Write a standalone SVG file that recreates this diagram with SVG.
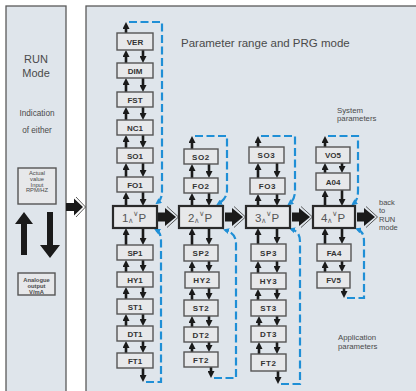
<svg xmlns="http://www.w3.org/2000/svg" width="416" height="391" viewBox="0 0 416 391">
<defs>
<style>
.panel{fill:#dfe5eb;stroke:#5a5a5a;stroke-width:1.3}
.box{fill:#e7e8ea;stroke:#555;stroke-width:1.4}
.pbox{fill:#e7e8ea;stroke:#2a2a2a;stroke-width:2.2}
.lbl{font-family:"Liberation Sans",Arial,sans-serif;font-weight:bold;font-size:8px;fill:#333;text-anchor:middle}
.pl{font-family:"Liberation Sans",Arial,sans-serif;font-size:11.5px;fill:#555}
.sm{font-family:"DejaVu Sans",sans-serif;font-size:7.5px;fill:#666}
.txt{font-family:"Liberation Sans",Arial,sans-serif;fill:#4a4a4a}
.ar{stroke:#1a1a1a;stroke-width:2.6;fill:none;marker-end:url(#ah)}
.dash{stroke:#1f8fd6;stroke-width:2.2;stroke-dasharray:8 3.5;fill:none}
.dh{marker-end:url(#bh)}
.blk{fill:#1a1a1a}
.chev{fill:none;stroke:#333;stroke-width:0.8}
</style>
<marker id="ah" markerUnits="userSpaceOnUse" markerWidth="7" markerHeight="7" viewBox="0 0 7 7" refX="2" refY="3.5" orient="auto"><path d="M0,0 L7,3.5 L0,7 z" fill="#1a1a1a"/></marker>
<marker id="bh" markerUnits="userSpaceOnUse" markerWidth="6" markerHeight="6" viewBox="0 0 6 6" refX="4" refY="3" orient="auto"><path d="M0,0 L6,3 L0,6 z" fill="#1f8fd6"/></marker>
</defs>
<rect width="416" height="391" fill="#ffffff"/>

<g id="run-panel">
<rect class="panel" x="6" y="6" width="60" height="400"/>
<text class="txt" x="36" y="63" font-size="11" text-anchor="middle">RUN</text>
<text class="txt" x="36" y="77" font-size="11" text-anchor="middle">Mode</text>
<text class="txt" x="37" y="116" font-size="8.2" text-anchor="middle">Indication</text>
<text class="txt" x="37" y="133" font-size="8.2" text-anchor="middle">of  either</text>
<g id="actual-box">
<rect class="box" x="18" y="168" width="38" height="36" stroke-width="1"/>
<text class="txt" font-size="5.8" text-anchor="middle"><tspan x="37" y="175">Actual</tspan><tspan x="37" y="181">value</tspan><tspan x="37" y="186.5">Input</tspan><tspan x="37" y="192">RPM/HZ</tspan></text>
</g>
<polygon class="blk" points="24,212 33,224 27,224 27,255 21,255 21,224 15,224"/>
<polygon class="blk" points="47,212 53,212 53,245 60,245 50,258 40,245 47,245"/>
<g id="analogue-box">
<rect class="box" x="18" y="273" width="37" height="22" stroke-width="1"/>
<text class="txt" font-size="5.8" font-weight="bold" text-anchor="middle"><tspan x="36.5" y="282">Analogue</tspan><tspan x="36.5" y="288">output</tspan><tspan x="36.5" y="294">V/mA</tspan></text>
</g>
</g>

<g id="prg-panel">
<rect class="panel" x="86" y="6" width="340" height="400"/>
<text class="txt" x="181" y="47" font-size="11.5">Parameter range and PRG mode</text>
<text class="txt" font-size="7.8"><tspan x="337" y="112.5">System</tspan><tspan x="337" y="121">parameters</tspan></text>
<text class="txt" font-size="7.8"><tspan x="338" y="340">Application</tspan><tspan x="338" y="349">parameters</tspan></text>
<text class="txt" font-size="7.5"><tspan x="379" y="205">back</tspan><tspan x="379" y="213">to</tspan><tspan x="379" y="222">RUN</tspan><tspan x="379" y="230">mode</tspan></text>
</g>

<g id="connectors">
<polygon class="blk" points="66,203 74,203 74,198.5 83,207 74,215.5 74,211 66,211"/>
<polyline class="chev" points="76,197 85.5,207 76,217"/>
<polygon class="blk" points="158,212.5 165,212.5 165,208 176,217 165,226 165,221.5 158,221.5"/>
<polyline class="chev" points="167,206.5 178.5,217 167,227.5"/>
<polygon class="blk" points="225,212.5 232,212.5 232,208 243,217 232,226 232,221.5 225,221.5"/>
<polyline class="chev" points="234,206.5 245.5,217 234,227.5"/>
<polygon class="blk" points="292,212.5 299,212.5 299,208 310,217 299,226 299,221.5 292,221.5"/>
<polyline class="chev" points="301,206.5 312.5,217 301,227.5"/>
<polygon class="blk" points="357,212.5 364,212.5 364,208 375,217 364,226 364,221.5 357,221.5"/>
<polyline class="chev" points="366,206.5 377.5,217 366,227.5"/>

<path class="ar" d="M126,33V27"/>
<path class="ar" d="M126,63V55"/><path class="ar" d="M143,50V58"/>
<path class="ar" d="M126,92V83"/><path class="ar" d="M143,78V87"/>
<path class="ar" d="M126,120V112"/><path class="ar" d="M143,107V115"/>
<path class="ar" d="M126,148V140"/><path class="ar" d="M143,135V143"/>
<path class="ar" d="M126,177V168"/><path class="ar" d="M143,163V172"/>
<path class="ar" d="M126,206V197"/><path class="ar" d="M143,192V201"/>
<path class="ar" d="M126,245V233"/><path class="ar" d="M143,228V240"/>
<path class="ar" d="M126,272V265"/><path class="ar" d="M143,260V267"/>
<path class="ar" d="M126,299V292"/><path class="ar" d="M143,287V294"/>
<path class="ar" d="M126,326V319"/><path class="ar" d="M143,314V321"/>
<path class="ar" d="M126,353V346"/><path class="ar" d="M143,341V348"/>
<path class="ar" d="M143,368V377"/>
<path class="dash dh" d="M129,22H162V190C162,197 161,200 157,203"/>
<path class="dash dh" d="M146,382H161V242C161,235 160,232 156,230"/>

<path class="ar" d="M192,149V141"/>
<path class="ar" d="M192,178V169"/><path class="ar" d="M209,164V173"/>
<path class="ar" d="M192,206V198"/><path class="ar" d="M209,193V201"/>
<path class="ar" d="M192,245V233"/><path class="ar" d="M209,228V240"/>
<path class="ar" d="M192,272V266"/><path class="ar" d="M209,261V267"/>
<path class="ar" d="M192,300V293"/><path class="ar" d="M209,288V295"/>
<path class="ar" d="M192,327V321"/><path class="ar" d="M209,316V322"/>
<path class="ar" d="M192,352V347"/><path class="ar" d="M209,342V347"/>
<path class="ar" d="M211,367V373"/>
<path class="dash dh" d="M195,136H227V190C227,197 223,201 218,204"/>
<path class="dash dh" d="M214,378H236V244C236,236 232,232 225,230"/>

<path class="ar" d="M258,147V141"/>
<path class="ar" d="M258,178V168"/><path class="ar" d="M277,163V173"/>
<path class="ar" d="M258,206V199"/><path class="ar" d="M277,194V201"/>
<path class="ar" d="M258,244V233"/><path class="ar" d="M277,228V239"/>
<path class="ar" d="M258,273V266"/><path class="ar" d="M277,261V268"/>
<path class="ar" d="M258,300V294"/><path class="ar" d="M277,289V295"/>
<path class="ar" d="M259,326V321"/><path class="ar" d="M277,316V321"/>
<path class="ar" d="M259,354V347"/><path class="ar" d="M277,342V349"/>
<path class="ar" d="M278,371V379"/>
<path class="dash dh" d="M261,136H295V190C295,197 293,201 289,204"/>
<path class="dash dh" d="M281,384H300V242C300,234 297,231 291,229"/>

<path class="ar" d="M325,147V141"/>
<path class="ar" d="M325,173V168"/><path class="ar" d="M342,163V168"/>
<path class="ar" d="M325,206V195"/><path class="ar" d="M342,190V201"/>
<path class="ar" d="M325,244V233"/><path class="ar" d="M342,228V239"/>
<path class="ar" d="M325,272V266"/><path class="ar" d="M342,261V267"/>
<path class="ar" d="M344,288V293"/>
<path class="dash dh" d="M328,136H358V190C358,197 357,201 353,204"/>
<path class="dash dh" d="M347,298H364V242C364,234 362,231 357,229"/>
</g>

<g id="ver"><rect class="box" x="117" y="33" width="36" height="17"/><text class="lbl" x="135" y="44.5">VER</text></g>
<g id="dim"><rect class="box" x="117" y="63" width="36" height="15"/><text class="lbl" x="135" y="73.5">DIM</text></g>
<g id="fst"><rect class="box" x="117" y="92" width="36" height="15"/><text class="lbl" x="135" y="102.5">FST</text></g>
<g id="nc1"><rect class="box" x="117" y="120" width="36" height="15"/><text class="lbl" x="135" y="130.5">NC1</text></g>
<g id="so1"><rect class="box" x="117" y="148" width="36" height="15"/><text class="lbl" x="135" y="158.5">SO1</text></g>
<g id="fo1"><rect class="box" x="117" y="177" width="36" height="15"/><text class="lbl" x="135" y="187.5">FO1</text></g>
<g id="p1"><rect class="pbox" x="113" y="206" width="44" height="22"/><text class="pl" y="222"><tspan x="122">1</tspan><tspan class="sm" x="128" y="222.5">∧</tspan><tspan class="sm" x="133" y="215.5">∨</tspan><tspan x="138.5" y="222">P</tspan></text></g>
<g id="sp1"><rect class="box" x="117" y="245" width="36" height="15"/><text class="lbl" x="135" y="255.5">SP1</text></g>
<g id="hy1"><rect class="box" x="117" y="272" width="36" height="15"/><text class="lbl" x="135" y="282.5">HY1</text></g>
<g id="st1"><rect class="box" x="117" y="299" width="36" height="15"/><text class="lbl" x="135" y="309.5">ST1</text></g>
<g id="dt1"><rect class="box" x="117" y="326" width="36" height="15"/><text class="lbl" x="135" y="336.5">DT1</text></g>
<g id="ft1"><rect class="box" x="117" y="353" width="36" height="15"/><text class="lbl" x="135" y="363.5">FT1</text></g>

<g id="so2"><rect class="box" x="184" y="149" width="34" height="15"/><text class="lbl" x="201" y="159.5" letter-spacing="0.6">SO2</text></g>
<g id="fo2"><rect class="box" x="184" y="178" width="34" height="15"/><text class="lbl" x="201" y="188.5" letter-spacing="0.6">FO2</text></g>
<g id="p2"><rect class="pbox" x="179" y="206" width="44" height="22"/><text class="pl" y="222"><tspan x="188">2</tspan><tspan class="sm" x="194" y="222.5">∧</tspan><tspan class="sm" x="199" y="215.5">∨</tspan><tspan x="204.5" y="222">P</tspan></text></g>
<g id="sp2"><rect class="box" x="184" y="245" width="34" height="16"/><text class="lbl" x="201" y="256" letter-spacing="0.6">SP2</text></g>
<g id="hy2"><rect class="box" x="185" y="272" width="34" height="16"/><text class="lbl" x="202" y="283" letter-spacing="0.6">HY2</text></g>
<g id="st2"><rect class="box" x="184" y="300" width="34" height="16"/><text class="lbl" x="201" y="311" letter-spacing="0.6">ST2</text></g>
<g id="dt2"><rect class="box" x="184" y="327" width="34" height="15"/><text class="lbl" x="201" y="337.5" letter-spacing="0.6">DT2</text></g>
<g id="ft2"><rect class="box" x="184" y="352" width="34" height="15"/><text class="lbl" x="201" y="362.5" letter-spacing="0.6">FT2</text></g>

<g id="so3"><rect class="box" x="249" y="147" width="35" height="16"/><text class="lbl" x="266.5" y="158" letter-spacing="0.6">SO3</text></g>
<g id="fo3"><rect class="box" x="250" y="178" width="35" height="16"/><text class="lbl" x="267.5" y="189" letter-spacing="0.6">FO3</text></g>
<g id="p3"><rect class="pbox" x="246" y="206" width="44" height="22"/><text class="pl" y="222"><tspan x="255">3</tspan><tspan class="sm" x="261" y="222.5">∧</tspan><tspan class="sm" x="266" y="215.5">∨</tspan><tspan x="271.5" y="222">P</tspan></text></g>
<g id="sp3"><rect class="box" x="251" y="244" width="35" height="17"/><text class="lbl" x="268.5" y="255.5" letter-spacing="0.6">SP3</text></g>
<g id="hy3"><rect class="box" x="251" y="273" width="35" height="16"/><text class="lbl" x="268.5" y="284" letter-spacing="0.6">HY3</text></g>
<g id="st3"><rect class="box" x="251" y="300" width="35" height="16"/><text class="lbl" x="268.5" y="311" letter-spacing="0.6">ST3</text></g>
<g id="dt3"><rect class="box" x="251" y="326" width="35" height="16"/><text class="lbl" x="268.5" y="337" letter-spacing="0.6">DT3</text></g>
<g id="ft2b"><rect class="box" x="251" y="354" width="35" height="17"/><text class="lbl" x="268.5" y="365.5" letter-spacing="0.6">FT2</text></g>

<g id="vo5"><rect class="box" x="316" y="147" width="34" height="16"/><text class="lbl" x="333" y="158">VO5</text></g>
<g id="a04"><rect class="box" x="316" y="173" width="34" height="17"/><text class="lbl" x="333" y="184.5">A04</text></g>
<g id="p4"><rect class="pbox" x="313" y="206" width="42" height="22"/><text class="pl" y="222"><tspan x="321">4</tspan><tspan class="sm" x="327" y="222.5">∧</tspan><tspan class="sm" x="332" y="215.5">∨</tspan><tspan x="337.5" y="222">P</tspan></text></g>
<g id="fa4"><rect class="box" x="317" y="244" width="34" height="17"/><text class="lbl" x="334" y="255.5">FA4</text></g>
<g id="fv5"><rect class="box" x="317" y="272" width="33" height="16"/><text class="lbl" x="333.5" y="283">FV5</text></g>
</svg>
